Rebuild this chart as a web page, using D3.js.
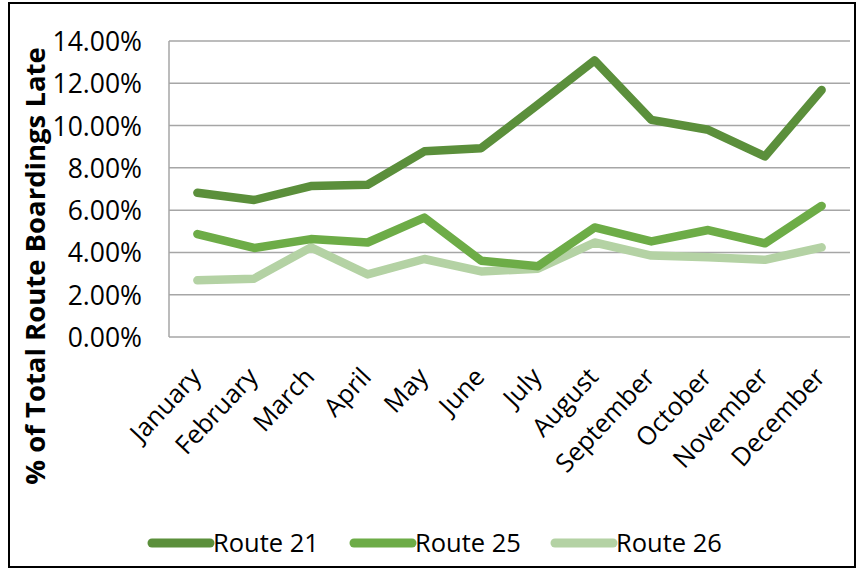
<!DOCTYPE html>
<html>
<head>
<meta charset="utf-8">
<script src="https://cdn.jsdelivr.net/npm/d3@7"></script>
<style>
  html, body { margin: 0; padding: 0; background: #fff; }
  svg text { font-family: "Open Sans", sans-serif; fill: #000; }
</style>
</head>
<body>
<svg id="chart" width="857" height="571"></svg>
<script>
const months = ['January', 'February', 'March', 'April', 'May', 'June',
    'July', 'August', 'September', 'October', 'November', 'December'];
const route21 = [6.82, 6.48, 7.14, 7.20, 8.78, 8.93, 10.99, 13.08, 10.27, 9.80, 8.54, 11.68];
const route25 = [4.87, 4.21, 4.63, 4.47, 5.65, 3.61, 3.35, 5.18, 4.52, 5.06, 4.43, 6.20];
const route26 = [2.68, 2.76, 4.24, 2.96, 3.69, 3.10, 3.23, 4.47, 3.85, 3.77, 3.65, 4.24];
const yTicks = [0, 2, 4, 6, 8, 10, 12, 14];

const series = [
    { name: 'Route 21', values: route21, color: '#5b8f3b' },
    { name: 'Route 25', values: route25, color: '#6dac47' },
    { name: 'Route 26', values: route26, color: '#b4d2a4' }
];

const svg = d3.select('#chart');
const plot = { left: 169, right: 850, top: 41, bottom: 337 };

// outer frame
svg.append('rect')
    .attr('x', 9).attr('y', 3)
    .attr('width', 846).attr('height', 564)
    .attr('fill', 'none')
    .attr('stroke', '#000')
    .attr('stroke-width', 2);

const x = d3.scaleBand()
    .domain(months)
    .range([plot.left, plot.right]);

const y = d3.scaleLinear()
    .domain([0, 14])
    .range([plot.bottom, plot.top]);

// gridlines
svg.append('g')
    .selectAll('line')
    .data(yTicks)
    .join('line')
    .attr('x1', plot.left).attr('x2', plot.right)
    .attr('y1', d => y(d)).attr('y2', d => y(d))
    .attr('stroke', '#a6a6a6')
    .attr('stroke-width', 1.5);

svg.append('line')
    .attr('x1', plot.left).attr('x2', plot.left)
    .attr('y1', plot.top).attr('y2', plot.bottom)
    .attr('stroke', '#a6a6a6')
    .attr('stroke-width', 1.5);

// y axis labels
const yAxis = svg.append('g')
    .attr('transform', `translate(${plot.left - 27},0)`)
    .call(d3.axisLeft(y).tickValues(yTicks).tickSize(0).tickPadding(0)
        .tickFormat(d => d.toFixed(2) + '%'));
yAxis.select('.domain').remove();
yAxis.selectAll('text')
    .style('font-size', '26.5px')
    .attr('dy', '0.36em');

// x axis labels
const xAxis = svg.append('g')
    .attr('transform', `translate(0,${plot.bottom})`)
    .call(d3.axisBottom(x).tickSize(0).tickPadding(0));
xAxis.select('.domain').remove();
xAxis.selectAll('text')
    .style('font-size', '25.5px')
    .attr('text-anchor', 'end')
    .attr('dy', 0)
    .attr('transform', 'translate(5,41) rotate(-47)');

// y axis title
svg.append('text')
    .attr('transform', 'translate(45,266) rotate(-90)')
    .attr('text-anchor', 'middle')
    .style('font-size', '27.5px')
    .style('font-weight', 'bold')
    .text('% of Total Route Boardings Late');

// lines
const line = d3.line()
    .x((d, i) => x(months[i]) + x.bandwidth() / 2)
    .y(d => y(d));

svg.append('g')
    .selectAll('path')
    .data(series.slice().reverse())
    .join('path')
    .attr('d', d => line(d.values))
    .attr('fill', 'none')
    .attr('stroke', d => d.color)
    .attr('stroke-width', 8.5)
    .attr('stroke-linejoin', 'round')
    .attr('stroke-linecap', 'round');

// legend
const legendX = [152, 354, 555];
const legend = svg.append('g')
    .selectAll('g')
    .data(series)
    .join('g')
    .attr('transform', (d, i) => `translate(${legendX[i]},543)`);
legend.append('line')
    .attr('x1', 0).attr('x2', 58)
    .attr('stroke', d => d.color)
    .attr('stroke-width', 9)
    .attr('stroke-linecap', 'round');
legend.append('text')
    .attr('x', 61)
    .attr('dy', '0.36em')
    .style('font-size', '25.5px')
    .text(d => d.name);
</script>
</body>
</html>
